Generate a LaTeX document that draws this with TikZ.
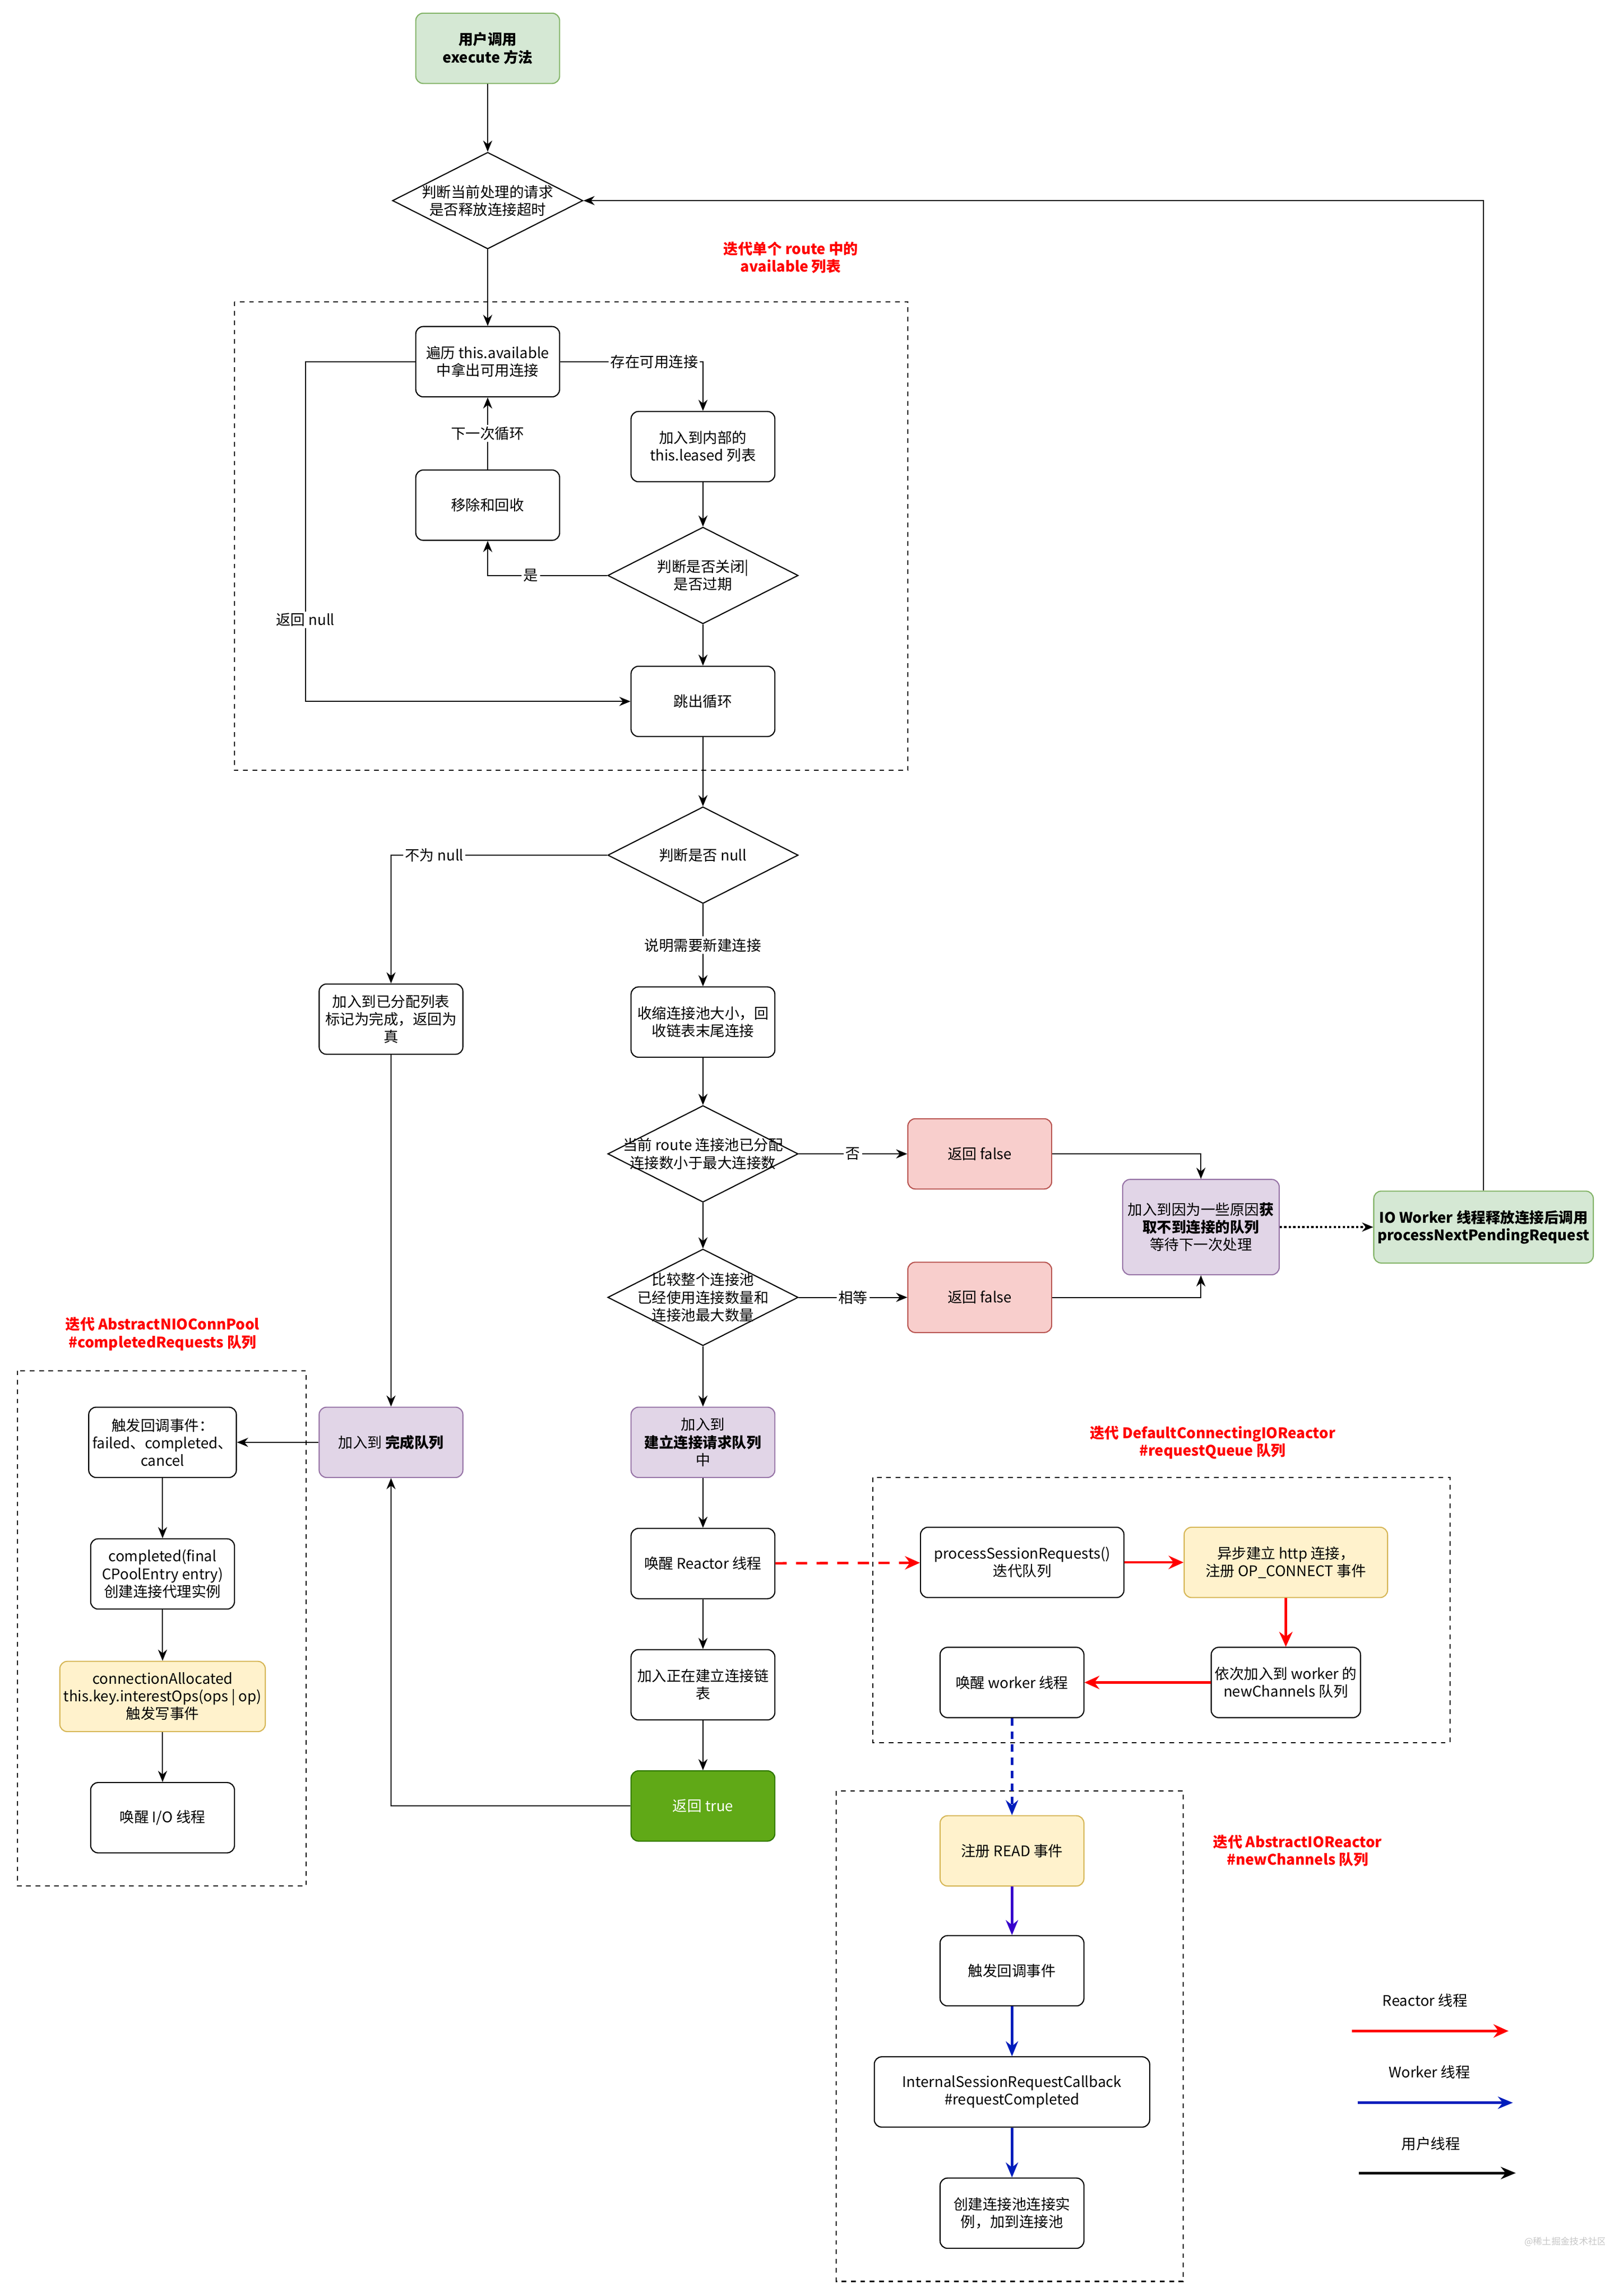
\documentclass[tikz,border=0pt]{standalone}
\usepackage{fontspec}
\setmainfont{Noto Sans CJK SC}
\usepackage{tikz}
\usepackage{xcolor}
\usetikzlibrary{arrows.meta,shapes,positioning,calc}

\definecolor{startfill}{HTML}{D5E8D4}
\definecolor{startdraw}{HTML}{82B366}
\definecolor{queuefill}{HTML}{E1D5E7}
\definecolor{queuedraw}{HTML}{9673A6}
\definecolor{falsefill}{HTML}{F8CECC}
\definecolor{falsedraw}{HTML}{B85450}
\definecolor{eventfill}{HTML}{FFF2CC}
\definecolor{eventdraw}{HTML}{D6B656}
\definecolor{truefill}{HTML}{60A917}
\definecolor{truedraw}{HTML}{2D7600}
\definecolor{reactorred}{HTML}{FF0000}
\definecolor{workerblue}{HTML}{001DBC}
\definecolor{workerviolet}{HTML}{3700CC}

\tikzset{
  txt/.style={font=\fontsize{7.8}{9.4}\selectfont, align=center},
  bold/.style={font=\fontsize{7.8}{9.4}\selectfont\bfseries},
  box/.style={txt, draw, rounded corners=4pt, minimum width=2.7cm, minimum height=1.32cm, inner sep=2pt, line width=0.6pt},
  queue/.style={fill=queuefill, draw=queuedraw},
  event/.style={fill=eventfill, draw=eventdraw},
  dia/.style={draw, diamond, minimum width=3.575cm, minimum height=1.815cm, inner sep=0pt, line width=0.6pt},
  elabel/.style={txt, fill=white, inner sep=1pt},
  title/.style={txt, bold, text=reactorred},
  region/.style={draw, dash pattern=on 2.5pt off 2.5pt, line width=0.6pt},
  arr/.style={line width=0.6pt, -{Stealth[length=2.1mm,width=1.7mm]}},
  rarr/.style={draw=reactorred, line width=1.3pt, -{Stealth[length=2.8mm,width=2.5mm,fill=reactorred]}},
  barr/.style={draw=workerblue, line width=1.3pt, -{Stealth[length=2.8mm,width=2.3mm]}}
}

\begin{document}
\begin{tikzpicture}[x=0.0275cm, y=-0.0275cm, node distance=0.935cm]
    \useasboundingbox (0,0) rectangle (1095.6,1568);

    % Entry
    \node[box, fill=startfill, draw=startdraw, bold] (start) at (333,33) {用户调用\\execute 方法};
    \node[dia, label={[txt]center:{判断当前处理的请求\\是否释放连接超时}}] (diaTimeout) at (333,137) {};

    % Loop over available
    \draw[region] (160,206) rectangle (620,526);
    \node[title] (titleLoop) at (540,176) {迭代单个 route 中的\\available 列表};
    \node[box] (loopHead) at (333,247) {遍历 this.available\\中拿出可用连接};
    \node[box] (leased) at (480,305) {加入到内部的\\this.leased 列表};
    \node[box] (recycle) at (333,345) {移除和回收};
    \node[dia, label={[txt]center:{判断是否关闭|\\是否过期}}] (diaExpire) at (480,393) {};
    \node[box] (breakLoop) at (480,479) {跳出循环};

    % Main column
    \node[dia, label={[txt]center:{判断是否 null}}] (diaNull) at (480,584) {};
    \node[box] (allocated) at (267,696) {加入到已分配列表\\标记为完成，返回为\\真};
    \node[box] (shrink) at (480,698) {收缩连接池大小，回\\收链表末尾连接};
    \node[dia, label={[txt]center:{当前 route 连接池已分配\\连接数小于最大连接数}}] (diaRoute) at (480,788) {};
    \node[dia, label={[txt]center:{比较整个连接池\\已经使用连接数量和\\连接池最大数量}}] (diaPool) at (480,886) {};
    \node[box, fill=falsefill, draw=falsedraw] (falseRoute) at (669,788) {返回 false};
    \node[box, fill=falsefill, draw=falsedraw] (falsePool) at (669,886) {返回 false};
    \node[box, queue, minimum width=2.94cm, minimum height=1.79cm] (pending) at (820,838) {加入到因为一些原因\textbf{获}\\\textbf{取不到连接的队列}\\等待下一次处理};
    \node[box, fill=startfill, draw=startdraw, bold, minimum width=4.04cm, minimum height=1.35cm] (release) at (1013,838) {IO Worker 线程释放连接后调用\\processNextPendingRequest};
    \node[box, queue] (connQueue) at (480,985) {加入到\\\textbf{建立连接请求队列}\\中};
    \node[box, below=of connQueue] (wakeReactor) {唤醒 Reactor 线程};
    \node[box, below=of wakeReactor] (connecting) {加入正在建立连接链\\表};
    \node[box, below=of connecting, fill=truefill, draw=truedraw, text=white] (retTrue) {返回 true};
    \node[box, queue] (doneQueue) at (267,985) {加入到 \textbf{完成队列}};

    % completedRequests
    \draw[region] (12,936) rectangle (209,1288);
    \node[title] (titleDone) at (111,911) {迭代 AbstractNIOConnPool\\\#completedRequests 队列};
    \node[box] (callback) at (111,985) {触发回调事件：\\failed、completed、\\cancel};
    \node[box, below=1.13cm of callback] (proxy) {completed(final\\CPoolEntry entry)\\创建连接代理实例};
    \node[box, event, minimum width=3.6cm, below=0.96cm of proxy] (allocEvt) {connectionAllocated\\this.key.interestOps(ops | op)\\触发写事件};
    \node[box, below=of allocEvt] (wakeIO) {唤醒 I/O 线程};

    % requestQueue
    \draw[region] (596,1009) rectangle (990,1190);
    \node[title] (titleReq) at (828,985) {迭代 DefaultConnectingIOReactor\\\#requestQueue 队列};
    \node[box, minimum width=3.82cm] (procReq) at (698,1067) {processSessionRequests()\\迭代队列};
    \node[box, event, minimum width=3.82cm] (asyncConn) at (878,1067) {异步建立 http 连接，\\注册 OP\_CONNECT 事件};
    \node[box] (newChan) at (878,1149) {依次加入到 worker 的\\newChannels 队列};
    \node[box] (wakeWorker) at (691,1149) {唤醒 worker 线程};

    % newChannels
    \draw[region] (571,1223) rectangle (808,1558);
    \node[title] (titleChan) at (886,1264) {迭代 AbstractIOReactor\\\#newChannels 队列};
    \node[box, event] (regRead) at (691,1264) {注册 READ 事件};
    \node[box, below=0.91cm of regRead] (readCb) {触发回调事件};
    \node[box, minimum width=5.17cm, below=of readCb] (reqDone) {InternalSessionRequestCallback\\\#requestCompleted};
    \node[box, below=of reqDone] (addPool) {创建连接池连接实\\例，加到连接池};

    % User thread flow
    \draw[arr] (start) -- (diaTimeout);
    \draw[arr] (diaTimeout) -- (loopHead);
    \draw[arr] (loopHead.east) -| node[elabel, pos=0.33] {存在可用连接} (leased.north);
    \draw[arr] (leased) -- (diaExpire);
    \draw[arr] (diaExpire.west) -| node[elabel, pos=0.32] {是} (recycle.south);
    \draw[arr] (recycle) -- node[elabel] {下一次循环} (loopHead);
    \draw[arr] (loopHead.west) -- ++(-75,0) |- node[elabel, pos=0.38] {返回 null} (breakLoop.west);
    \draw[arr] (diaExpire) -- (breakLoop);
    \draw[arr] (breakLoop) -- (diaNull);
    \draw[arr] (diaNull.west) -| node[elabel, pos=0.4] {不为 null} (allocated.north);
    \draw[arr] (diaNull) -- node[elabel] {说明需要新建连接} (shrink);
    \draw[arr] (shrink) -- (diaRoute);
    \draw[arr] (diaRoute) -- node[elabel] {否} (falseRoute);
    \draw[arr] (diaRoute) -- (diaPool);
    \draw[arr] (diaPool) -- node[elabel] {相等} (falsePool);
    \draw[arr] (falseRoute.east) -| (pending.north);
    \draw[arr] (falsePool.east) -| (pending.south);
    \draw[arr, line width=1pt, dash pattern=on 1.2pt off 1.2pt] (pending) -- (release);
    \draw[arr] (release.north) |- (diaTimeout.east);
    \draw[arr] (diaPool) -- (connQueue);
    \draw[arr] (connQueue) -- (wakeReactor);
    \draw[arr] (wakeReactor) -- (connecting);
    \draw[arr] (connecting) -- (retTrue);
    \draw[arr] (retTrue.west) -| (doneQueue.south);
    \draw[arr] (allocated) -- (doneQueue);
    \draw[arr] (doneQueue) -- (callback);
    \draw[arr] (callback) -- (proxy);
    \draw[arr] (proxy) -- (allocEvt);
    \draw[arr] (allocEvt) -- (wakeIO);

    % Reactor thread flow
    \draw[rarr, dash pattern=on 6pt off 5pt] (wakeReactor) -- (procReq);
    \draw[rarr] (procReq) -- (asyncConn);
    \draw[rarr] (asyncConn) -- (newChan);
    \draw[rarr] (newChan) -- (wakeWorker);

    % Worker thread flow
    \draw[barr, dash pattern=on 4pt off 3pt] (wakeWorker) -- (regRead);
    \draw[barr, draw=workerviolet] (regRead) -- (readCb);
    \draw[barr] (readCb) -- (reqDone);
    \draw[barr] (reqDone) -- (addPool);

    % Legend
    \node[txt] (keyReactor) at (973,1366) {Reactor 线程};
    \node[txt] (keyWorker) at (976,1415) {Worker 线程};
    \node[txt] (keyUser) at (977,1464) {用户线程};
    \coordinate (keyReactorA) at (923,1387);
    \coordinate (keyReactorB) at (1030,1387);
    \coordinate (keyWorkerA) at (927,1436);
    \coordinate (keyWorkerB) at (1033,1436);
    \coordinate (keyUserA) at (928,1484);
    \coordinate (keyUserB) at (1035,1484);
    \draw[rarr, line width=1.5pt] (keyReactorA) -- (keyReactorB);
    \draw[barr, line width=1.5pt] (keyWorkerA) -- (keyWorkerB);
    \draw[line width=1.5pt, -{Stealth[length=2.8mm,width=2.3mm]}] (keyUserA) -- (keyUserB);

    \node[font=\fontsize{4.9}{5}\selectfont, text=black!22] (mark) at (1069,1531) {@稀土掘金技术社区};
\end{tikzpicture}
\end{document}
